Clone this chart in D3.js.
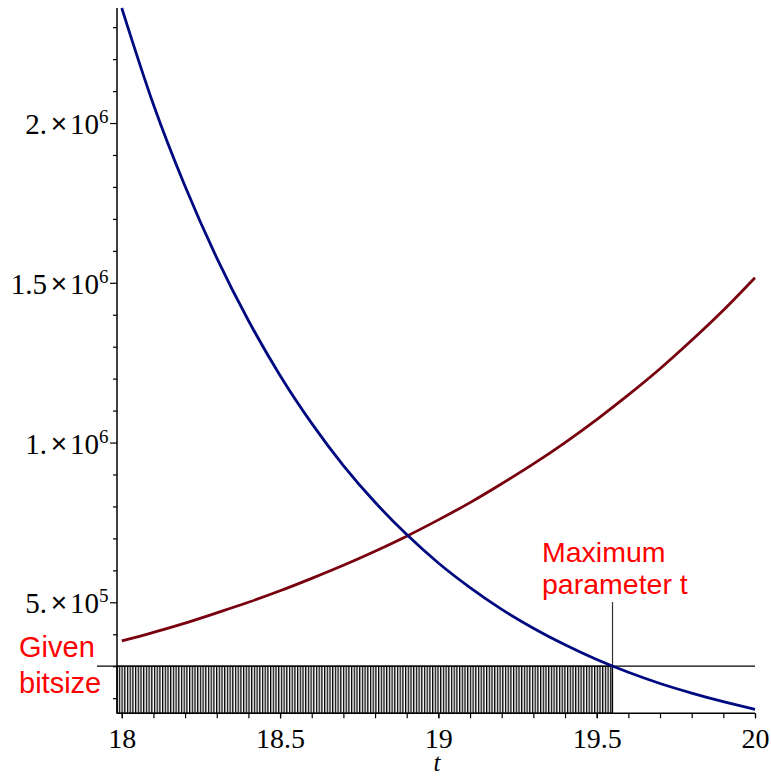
<!DOCTYPE html>
<html>
<head>
<meta charset="utf-8">
<script src="https://cdn.jsdelivr.net/npm/d3@7"></script>
<style>
  html, body { margin: 0; padding: 0; background: #fff; }
  svg { display: block; }
</style>
</head>
<body>
<svg id="chart" width="771" height="776"></svg>
<script>
// ---- data ----
const tValues = [18.0, 18.1, 18.2, 18.3, 18.4, 18.5, 18.6, 18.7, 18.8, 18.9, 19.0,
                 19.1, 19.2, 19.3, 19.4, 19.5, 19.6, 19.7, 19.8, 19.9, 20.0];
const decreasingSeries = [2360000, 2058000, 1802000, 1578000, 1382000, 1210000, 1060000,
                          928000, 813000, 712000, 623000, 546000, 478000, 419000, 367000,
                          321000, 281000, 246000, 216000, 189000, 165000];
const increasingSeries = [379000, 406000, 435000, 467000, 500000, 536000, 575000,
                          616000, 660000, 707000, 758000, 812000, 871000, 933000, 1000000,
                          1072000, 1149000, 1231000, 1320000, 1414000, 1516000];
const xTickValues = [18, 18.5, 19, 19.5, 20];
const xTickLabels = ["18", "18.5", "19", "19.5", "20"];
const xMinorTicks = [18.0, 18.1, 18.2, 18.3, 18.4, 18.5, 18.6, 18.7, 18.8, 18.9, 19.0,
                     19.1, 19.2, 19.3, 19.4, 19.5, 19.6, 19.7, 19.8, 19.9, 20.0];
const yTickValues = [500000, 1000000, 1500000, 2000000];
const yTickMantissa = ["5.", "1.", "1.5", "2."];
const yTickExponent = ["5", "6", "6", "6"];
const yMinorTicks = [200000, 300000, 400000, 600000, 700000, 800000, 900000, 1100000,
                     1200000, 1300000, 1400000, 1600000, 1700000, 1800000, 1900000,
                     2100000, 2200000, 2300000];
const givenBitsize = 300000;
const maxParameterT = 19.55;
const xDomain = [17.985, 20];
const yDomain = [152600, 2360000];
const annotationGiven = ["Given", "bitsize"];
const annotationMax = ["Maximum", "parameter t"];
const xAxisTitle = "t";

// ---- layout ----
const svg = d3.select("#chart");
const x = d3.scaleLinear().domain(xDomain).range([117, 755]);
const y = d3.scaleLinear().domain(yDomain).range([713.3, 8]);

const serif = "'Liberation Serif', 'Times New Roman', serif";
const sans = "'Liberation Sans', Arial, sans-serif";

// hatch pattern
const defs = svg.append("defs");
const pat = defs.append("pattern")
  .attr("id", "hatch")
  .attr("patternUnits", "userSpaceOnUse")
  .attr("width", 2.7).attr("height", 10);
pat.append("rect").attr("width", 2.7).attr("height", 10).attr("fill", "#fff");
pat.append("rect").attr("x", 0).attr("width", 1.3).attr("height", 10).attr("fill", "#000");

// hatched region
svg.append("rect")
  .attr("x", x(xDomain[0]))
  .attr("y", y(givenBitsize))
  .attr("width", x(maxParameterT) - x(xDomain[0]))
  .attr("height", y(yDomain[0]) - y(givenBitsize))
  .attr("fill", "url(#hatch)")
  .attr("stroke", "#000")
  .attr("stroke-width", 1.2);

// horizontal bitsize line
svg.append("line")
  .attr("x1", 97).attr("x2", x(20))
  .attr("y1", y(givenBitsize)).attr("y2", y(givenBitsize))
  .attr("stroke", "#000").attr("stroke-width", 1.2);

// vertical max-t line
svg.append("line")
  .attr("x1", x(maxParameterT)).attr("x2", x(maxParameterT))
  .attr("y1", 602).attr("y2", y(givenBitsize))
  .attr("stroke", "#333").attr("stroke-width", 1.2);

// curves
const line = (vals) => d3.line()
  .x((d, i) => x(tValues[i]))
  .y(d => y(d))
  .curve(d3.curveMonotoneX)(vals);

svg.append("path")
  .attr("d", line(increasingSeries))
  .attr("fill", "none").attr("stroke", "#78000E").attr("stroke-width", 2.8);
svg.append("path")
  .attr("d", line(decreasingSeries))
  .attr("fill", "none").attr("stroke", "#000A80").attr("stroke-width", 2.8);

// x axis
const xAxisG = svg.append("g").attr("transform", `translate(0,${y(yDomain[0])})`);
xAxisG.call(d3.axisBottom(x).tickValues(xMinorTicks).tickSize(5).tickFormat(""));
const xMajor = svg.append("g").attr("transform", `translate(0,${y(yDomain[0])})`)
  .call(d3.axisBottom(x).tickValues(xTickValues).tickSize(5)
        .tickFormat((d, i) => xTickLabels[i]).tickPadding(10));
xMajor.selectAll(".domain").remove();
xMajor.selectAll("text")
  .attr("font-family", serif).attr("font-size", 28).attr("fill", "#000");
xAxisG.select(".domain").attr("d", `M${x(xDomain[0])},0H${x(20)}`).attr("stroke-width", 1.5);
svg.selectAll(".tick line").attr("stroke-width", 1.2);

// y axis
const yAxisG = svg.append("g").attr("transform", `translate(${x(xDomain[0])},0)`);
yAxisG.call(d3.axisLeft(y).tickValues(yMinorTicks).tickSize(4).tickFormat(""));
yAxisG.select(".domain").attr("d", `M0,${y(yDomain[1])}V${y(yDomain[0])}`).attr("stroke-width", 1.5);
const yMajor = svg.append("g").attr("transform", `translate(${x(xDomain[0])},0)`)
  .call(d3.axisLeft(y).tickValues(yTickValues).tickSize(7).tickFormat(""));
yMajor.select(".domain").remove();
yMajor.selectAll(".tick line").attr("stroke-width", 1.2);
yAxisG.selectAll(".tick line").attr("stroke-width", 1.2);

const yLab = svg.append("g")
  .attr("font-family", serif).attr("fill", "#000");
yTickValues.forEach((v, i) => {
  const by = y(v) + 11;
  yLab.append("text").attr("x", 47).attr("y", by)
    .attr("text-anchor", "end").attr("font-size", 29)
    .text(yTickMantissa[i]);
  yLab.append("text").attr("x", 59).attr("y", by - 1)
    .attr("text-anchor", "middle").attr("font-size", 28)
    .attr("font-family", sans)
    .text("\u00D7");
  const t = yLab.append("text").attr("x", 70).attr("y", by)
    .attr("font-size", 29);
  t.append("tspan").text("10");
  t.append("tspan").attr("dy", -11).attr("font-size", 19).text(yTickExponent[i]);
});

// axis title
svg.append("text")
  .attr("x", 437).attr("y", 771)
  .attr("text-anchor", "middle")
  .attr("font-family", serif).attr("font-style", "italic").attr("font-size", 25)
  .text(xAxisTitle);

// annotations
const red = "#ff0000";
svg.append("text").attr("x", 19).attr("y", 657)
  .attr("font-family", sans).attr("font-size", 29).attr("fill", red)
  .text(annotationGiven[0]);
svg.append("text").attr("x", 19).attr("y", 693)
  .attr("font-family", sans).attr("font-size", 29).attr("fill", red)
  .text(annotationGiven[1]);
svg.append("text").attr("x", 542).attr("y", 562)
  .attr("font-family", sans).attr("font-size", 28.5).attr("fill", red)
  .text(annotationMax[0]);
svg.append("text").attr("x", 542).attr("y", 594)
  .attr("font-family", sans).attr("font-size", 28.5).attr("fill", red)
  .text(annotationMax[1]);
</script>
</body>
</html>
